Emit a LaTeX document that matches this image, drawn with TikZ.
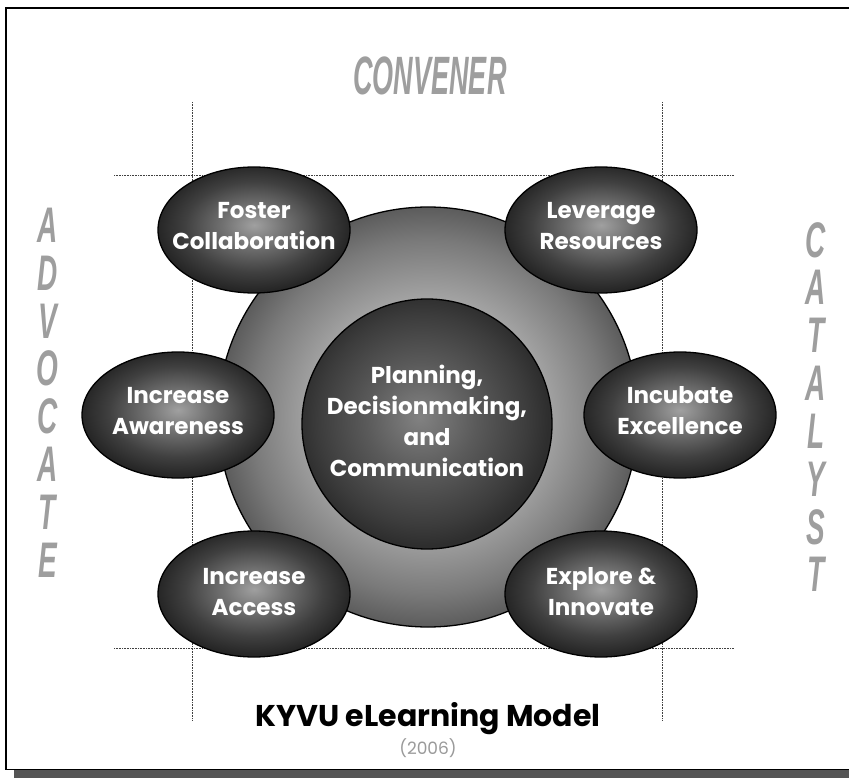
\documentclass[tikz,border=0pt]{standalone}
\usepackage{fontspec}
\setmainfont{Poppins}
\newfontfamily\condfont{Liberation Sans}
\usepackage{graphicx}
\usetikzlibrary{shapes.geometric}

\definecolor{ellA}{HTML}{A0A0A0}
\definecolor{ellB}{HTML}{727272}
\definecolor{ellC}{HTML}{404040}
\definecolor{ellD}{HTML}{262626}
\definecolor{bigA}{HTML}{C8C8C8}
\definecolor{bigB}{HTML}{A4A4A4}
\definecolor{bigC}{HTML}{7A7A7A}
\definecolor{bigD}{HTML}{5C5C5C}
\definecolor{inA}{HTML}{828282}
\definecolor{inB}{HTML}{5A5A5A}
\definecolor{inC}{HTML}{3C3C3C}
\definecolor{inD}{HTML}{2E2E2E}
\definecolor{sidegray}{HTML}{9E9E9E}
\definecolor{yeargray}{HTML}{9A9A9A}
\definecolor{shadowgray}{HTML}{555555}

\pgfdeclareradialshading{ellshade}{\pgfpoint{0bp}{2bp}}{color(0bp)=(ellA); color(8bp)=(ellB); color(18bp)=(ellC); color(25bp)=(ellD); color(50bp)=(ellD)}
\pgfdeclareradialshading{bigshade}{\pgfpoint{0bp}{0bp}}{color(0bp)=(bigA); color(14bp)=(bigB); color(21bp)=(bigC); color(25bp)=(bigD); color(50bp)=(bigD)}
\pgfdeclareradialshading{innershade}{\pgfpoint{-1.5bp}{1.5bp}}{color(0bp)=(inA); color(11bp)=(inB); color(21bp)=(inC); color(25bp)=(inD); color(50bp)=(inD)}

\newcommand{\condtxt}[2]{\scalebox{#1}[1]{\condfont\bfseries\itshape #2}}

\tikzset{
  dotline/.style={densely dotted, line width=0.6pt, black!75},
  bubble/.style={ellipse, draw=black, line width=1.3pt, shading=ellshade,
    minimum width=192pt, minimum height=126pt, inner sep=0pt},
  bubbletext/.style={align=center, text=white, inner sep=0pt,
    font=\fontsize{23}{31}\selectfont\bfseries},
  sidelet/.style={text=sidegray, inner sep=0pt,
    font=\fontsize{50}{50}\selectfont},
}

\begin{document}
\begin{tikzpicture}[x=1pt,y=-1pt]
\useasboundingbox (0,0) rectangle (849,778);
\fill[white] (0,0) rectangle (849,778);

% frame and shadow
\fill[shadowgray] (14,770) rectangle (849,778);
\draw[line width=1.6pt] (5.8,769.5) -- (5.8,8.2) -- (849,8.2);
\draw[line width=1.2pt] (5,769.5) -- (849,769.5);

% guide lines
\coordinate (htl) at (114,175); \coordinate (htr) at (734,175);
\coordinate (hbl) at (114,648); \coordinate (hbr) at (734,648);
\coordinate (vlt) at (192,102); \coordinate (vlb) at (192,720);
\coordinate (vrt) at (662,102); \coordinate (vrb) at (662,720);
\draw[dotline] (htl) -- (htr);
\draw[dotline] (hbl) -- (hbr);
\draw[dotline] (vlt) -- (vlb);
\draw[dotline] (vrt) -- (vrb);

% side labels
\node[inner sep=0pt, text=sidegray] (conv) at (430,76)
  {\fontsize{54}{54}\selectfont\condtxt{0.5}{CONVENER}};
\foreach \l [count=\i] in {A,D,V,O,C,A,T,E}
  \node[sidelet] (adv\i) at ({47.5},{225+47.9*(\i-1)}) {\condtxt{0.56}{\l}};
\foreach \l [count=\i] in {C,A,T,A,L,Y,S,T}
  \node[sidelet] (cat\i) at ({816},{240+47.8*(\i-1)}) {\condtxt{0.56}{\l}};

% circles
\node[circle, draw=black, line width=1.3pt, shading=bigshade,
  minimum size=420pt, inner sep=0pt] (big) at (428,417) {};
\node[circle, draw=black, line width=1.3pt, shading=innershade,
  minimum size=250pt, inner sep=0pt] (inner) at (427,424) {};
\node[bubbletext] (innert) at (427,421) {Planning,\\Decisionmaking,\\and\\Communication};

% bubbles
\node[bubble] (e1) at (254,230) {};
\node[bubble] (e2) at (601,230) {};
\node[bubble] (e3) at (178,415) {};
\node[bubble] (e4) at (680,415) {};
\node[bubble] (e5) at (254,594) {};
\node[bubble] (e6) at (601,594) {};
\node[bubbletext] (t1) at (254,226) {Foster\\Collaboration};
\node[bubbletext] (t2) at (601,226) {Leverage\\Resources};
\node[bubbletext] (t3) at (178,411) {Increase\\Awareness};
\node[bubbletext] (t4) at (680,411) {Incubate\\Excellence};
\node[bubbletext] (t5) at (254,592) {Increase\\Access};
\node[bubbletext] (t6) at (601,592) {Explore \&\\Innovate};

% title
\node[anchor=base, inner sep=0pt, font=\fontsize{30}{30}\selectfont\bfseries] (title) at (428,726) {KYVU eLearning Model};
\node[anchor=base, inner sep=0pt, text=yeargray, font=\fontsize{17}{17}\selectfont] (year) at (428,754) {(2006)};
\end{tikzpicture}
\end{document}
